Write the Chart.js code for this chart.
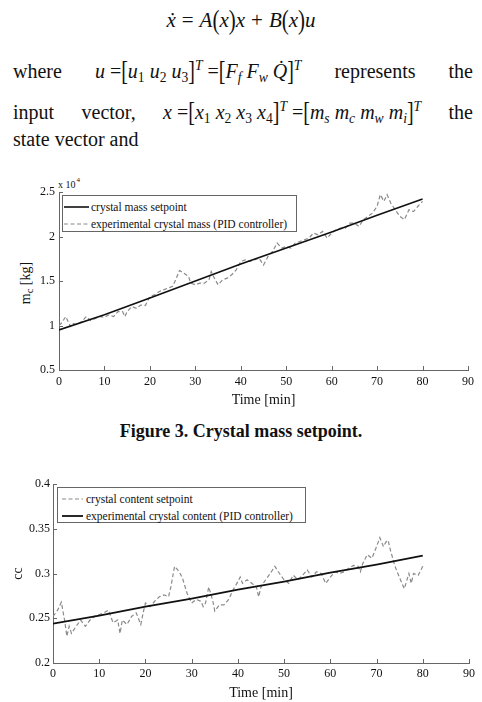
<!DOCTYPE html>
<html>
<head>
<meta charset="utf-8">
<script src="https://cdn.jsdelivr.net/npm/chart.js@4.4.1/dist/chart.umd.min.js"></script>
<style>
  html, body { margin: 0; padding: 0; background: #fff; }
  body { width: 482px; height: 702px; position: relative; overflow: hidden;
         font-family: "Liberation Serif", "Times New Roman", serif; color: #111; }
  .line { position: absolute; font-size: 20px; line-height: 20px; white-space: nowrap; }
  .just { display: flex; justify-content: space-between; align-items: baseline; }
  .m { font-style: italic; }
  .op { display: inline-block; margin: 0 6px; }
  .sub { font-size: .68em; position: relative; top: .3em; }
  .sup { font-size: .68em; position: relative; top: -.6em; }
  .br { display: inline-block; transform: scale(1, 1.35); font-style: normal; }
  .caption { position: absolute; left: 0; width: 482px; text-align: center;
             font-weight: bold; font-size: 18px; line-height: 18px; }
  canvas { position: absolute; left: 0; }
  .legend { position: absolute; box-sizing: border-box; border: 1px solid #666; background: #fff;
            font-size: 11.5px; }
  .legend .row { display: flex; align-items: center; height: 17px; white-space: nowrap; }
  .legend svg { flex: none; }
  .ytitle { position: absolute; font-size: 14px; line-height: 14px; white-space: nowrap;
            transform: translate(-50%, -50%) rotate(-90deg); }
  .exp { position: absolute; font-size: 10px; line-height: 10px; white-space: nowrap; }
</style>
</head>
<body>

<div class="line" style="left:0;width:482px;top:10px;text-align:center;font-size:21px">
  <span class="m">x&#775;</span><span class="op">=</span><span class="m">A</span><span class="br">(</span><span class="m">x</span><span class="br">)</span><span class="m">x</span><span class="op">+</span><span class="m">B</span><span class="br">(</span><span class="m">x</span><span class="br">)</span><span class="m">u</span>
</div>

<div class="line just" style="left:13px;top:61px;width:460px">
  <span>where</span>
  <span><span class="m">u</span> =<span class="br">[</span><span class="m">u</span><span class="sub">1</span> <span class="m">u</span><span class="sub">2</span> <span class="m">u</span><span class="sub">3</span><span class="br">]</span><span class="sup m">T</span> =<span class="br">[</span><span class="m">F</span><span class="sub m">f</span> <span class="m">F</span><span class="sub m">w</span> <span class="m">Q&#775;</span><span class="br">]</span><span class="sup m">T</span></span>
  <span>represents</span>
  <span>the</span>
</div>

<div class="line just" style="left:13px;top:102px;width:460px">
  <span>input</span>
  <span>vector,</span>
  <span><span class="m">x</span> =<span class="br">[</span><span class="m">x</span><span class="sub">1</span> <span class="m">x</span><span class="sub">2</span> <span class="m">x</span><span class="sub">3</span> <span class="m">x</span><span class="sub">4</span><span class="br">]</span><span class="sup m">T</span> =<span class="br">[</span><span class="m">m</span><span class="sub m">s</span> <span class="m">m</span><span class="sub m">c</span> <span class="m">m</span><span class="sub m">w</span> <span class="m">m</span><span class="sub m">i</span><span class="br">]</span><span class="sup m">T</span></span>
  <span>the</span>
</div>

<div class="line" style="left:13px;top:129px">state vector and</div>

<!-- Figure 3 -->
<div class="exp" style="left:58px;top:180px">x 10<span style="font-size:7px;position:relative;top:-6px;left:1px">4</span></div>
<div class="ytitle" style="left:26px;top:283px">m<span style="font-size:.75em;position:relative;top:.3em">c</span> [kg]</div>
<canvas id="massChart" width="482" height="234" style="top:175px;width:482px;height:234px"></canvas>
<div class="legend" id="massLegend" style="left:62px;top:195px;width:235px;height:37px;padding:2px 0 0 1px"></div>

<div class="caption" style="top:422px">Figure 3. Crystal mass setpoint.</div>

<!-- Figure 4 -->
<canvas id="ccChart" width="482" height="237" style="top:465px;width:482px;height:237px"></canvas>
<div class="legend" id="ccLegend" style="left:57px;top:487px;width:249px;height:36px;padding:2px 0 0 4px"></div>

<script>
// time axis ticks (min), shared by both figures
const timeTicks = [0, 10, 20, 30, 40, 50, 60, 70, 80, 90];

// setpoint trajectories
const spTime = [0, 10, 20, 30, 40, 50, 60, 70, 80];
const massSetpoint = [0.95, 1.12, 1.31, 1.50, 1.69, 1.87, 2.05, 2.24, 2.42];   // x 10^4 kg
const ccSetpoint = [0.244, 0.253, 0.263, 0.272, 0.282, 0.291, 0.301, 0.310, 0.320];

// experimental crystal mass (PID), x 10^4 kg
const massTime = [0, 0.5, 1.5, 2.5, 3, 4, 5, 6, 7, 8, 9, 10, 11, 12, 13, 14, 14.5, 15, 16, 17,
  18, 19, 20, 21, 22, 23, 24, 25, 25.5, 26.5, 27.5, 28.5, 29, 30, 31, 32, 33, 33.5, 34, 35,
  36, 37, 38, 39, 40, 41, 42, 43, 44, 45, 46, 47, 48, 49, 50, 51, 52, 53, 54, 55,
  56, 57, 58, 59, 60, 61, 62, 63, 64, 65, 66, 67, 68, 69, 70, 70.7, 71.5, 72.2, 73, 74,
  75, 76, 77, 78, 79, 80];
const massExp = [1.0, 1.025, 1.10, 0.99, 1.025, 1.007, 1.044, 1.10, 1.055, 1.08, 1.10, 1.093, 1.12, 1.10, 1.157, 1.157, 1.10, 1.157, 1.213, 1.194,
  1.23, 1.224, 1.325, 1.344, 1.38, 1.40, 1.42, 1.44, 1.494, 1.618, 1.588, 1.55, 1.476, 1.457, 1.476, 1.476, 1.513, 1.607, 1.55, 1.457,
  1.513, 1.532, 1.57, 1.626, 1.72, 1.738, 1.72, 1.738, 1.757, 1.68, 1.776, 1.832, 1.926, 1.87, 1.888, 1.87, 1.926, 1.944, 1.963, 1.982,
  2.038, 2.02, 2.057, 1.982, 2.038, 2.076, 2.094, 2.094, 2.15, 2.15, 2.113, 2.19, 2.226, 2.264, 2.34, 2.47, 2.395, 2.47, 2.376, 2.30,
  2.226, 2.19, 2.30, 2.28, 2.34, 2.395];
const massTicks = [0.5, 1, 1.5, 2, 2.5];

// crystal content (dashed one is labelled setpoint in the original legend)
const ccTime = [0, 1, 1.8, 2.5, 3, 3.5, 4, 5, 6, 7, 8, 9, 10, 11, 12, 13, 14, 14.5, 15, 16,
  17, 18, 19, 19.5, 20, 21, 22, 23, 24, 25, 25.5, 26.3, 27, 27.5, 28, 29, 30, 31, 32, 32.5,
  33, 33.7, 34.5, 35, 36, 37, 38, 39, 40, 40.5, 41, 42, 43, 44, 44.5, 45, 46, 47, 48, 49,
  50, 51, 52, 53, 54, 55, 56, 57, 58, 59, 60, 61, 62, 63, 64, 65, 66, 66.5, 67, 68,
  69, 70, 70.7, 71.5, 72, 72.5, 73, 74, 75, 76, 77, 77.5, 78, 79, 80];
const ccExp = [0.252, 0.259, 0.268, 0.248, 0.230, 0.241, 0.233, 0.241, 0.248, 0.241, 0.248, 0.252, 0.254, 0.256, 0.259, 0.245, 0.248, 0.233, 0.248, 0.243,
  0.252, 0.256, 0.243, 0.256, 0.267, 0.263, 0.269, 0.274, 0.276, 0.274, 0.285, 0.308, 0.304, 0.300, 0.295, 0.278, 0.267, 0.271, 0.269, 0.263,
  0.267, 0.285, 0.271, 0.258, 0.265, 0.265, 0.271, 0.282, 0.291, 0.296, 0.289, 0.293, 0.289, 0.285, 0.274, 0.285, 0.293, 0.300, 0.308, 0.300,
  0.293, 0.289, 0.298, 0.293, 0.298, 0.304, 0.296, 0.302, 0.300, 0.289, 0.296, 0.302, 0.300, 0.302, 0.306, 0.309, 0.308, 0.302, 0.311, 0.321,
  0.317, 0.330, 0.340, 0.330, 0.335, 0.337, 0.326, 0.308, 0.295, 0.283, 0.300, 0.289, 0.300, 0.298, 0.308];
const ccTicks = [0.2, 0.25, 0.3, 0.35, 0.4];

const axisColor = '#666';
const textColor = '#111';
const solidColor = '#111';
const dashColor = '#8a8a8a';
const font = 'Liberation Serif';

const pts = (xs, ys) => xs.map((x, i) => ({ x, y: ys[i] }));

// matlab-style tick marks pointing into the plot
const inwardTicks = {
  id: 'inwardTicks',
  afterDatasetsDraw(chart) {
    const { ctx, chartArea: a, scales: { x, y } } = chart;
    ctx.save();
    ctx.strokeStyle = axisColor;
    ctx.lineWidth = 1;
    ctx.beginPath();
    x.ticks.forEach(t => {
      const px = Math.round(x.getPixelForValue(t.value)) + 0.5;
      ctx.moveTo(px, a.bottom); ctx.lineTo(px, a.bottom - 4);
    });
    y.ticks.forEach(t => {
      const py = Math.round(y.getPixelForValue(t.value)) + 0.5;
      ctx.moveTo(a.left, py); ctx.lineTo(a.left + 4, py);
    });
    ctx.stroke();
    ctx.restore();
  }
};

function makeOptions(c) {
  return {
    responsive: false,
    animation: false,
    events: [],
    layout: { padding: { top: c.padTop, right: c.padRight, left: 0, bottom: 0 } },
    plugins: { legend: { display: false }, tooltip: { enabled: false } },
    elements: { point: { radius: 0 }, line: { tension: 0 } },
    scales: {
      x: {
        type: 'linear', min: 0, max: 90,
        afterBuildTicks: s => { s.ticks = timeTicks.map(v => ({ value: v })); },
        afterFit: s => { s.height = c.xHeight; },
        grid: { display: false, drawTicks: false },
        border: { display: true, color: axisColor, width: 1 },
        ticks: { color: textColor, font: { family: font, size: 12 }, padding: c.xPad, maxRotation: 0,
                 callback: v => String(v) },
        title: { display: true, text: 'Time [min]', color: textColor, font: { family: font, size: 14 }, padding: 0 }
      },
      y: {
        type: 'linear', min: c.yTicks[0], max: c.yTicks[c.yTicks.length - 1],
        afterBuildTicks: s => { s.ticks = c.yTicks.map(v => ({ value: v })); },
        afterFit: s => { s.width = c.yWidth; },
        grid: { display: false, drawTicks: false },
        border: { display: true, color: axisColor, width: 1 },
        ticks: { color: textColor, font: { family: font, size: 12 }, padding: c.yPad,
                 callback: v => String(v) },
        title: c.yTitle
          ? { display: true, text: c.yTitle, color: textColor, font: { family: font, size: 14 }, padding: { top: 10, bottom: 0 } }
          : { display: false }
      }
    }
  };
}

function drawLegend(chart, id, sampleW, gap) {
  const el = document.getElementById(id);
  el.innerHTML = chart.data.datasets.map(ds => {
    const dash = ds.borderDash ? ds.borderDash.join(',') : 'none';
    return `<div class="row">
      <svg width="${sampleW}" height="6" style="margin-right:${gap}px">
        <line x1="0" y1="3" x2="${sampleW}" y2="3" stroke="${ds.borderColor}" stroke-width="${ds.borderWidth}" stroke-dasharray="${dash}"/>
      </svg><span>${ds.label}</span></div>`;
  }).join('');
}

const massChart = new Chart(document.getElementById('massChart'), {
  type: 'line',
  data: {
    datasets: [
      { label: 'crystal mass setpoint', data: pts(spTime, massSetpoint),
        borderColor: solidColor, borderWidth: 1.6, order: 0 },
      { label: 'experimental crystal mass (PID controller)', data: pts(massTime, massExp),
        borderColor: dashColor, borderWidth: 1.2, borderDash: [4, 2.5], order: 1 }
    ]
  },
  options: makeOptions({ yTicks: massTicks, yWidth: 59, padTop: 17, padRight: 14, xHeight: 39, xPad: 5, yPad: 4 }),
  plugins: [inwardTicks]
});
drawLegend(massChart, 'massLegend', 25, 2);

const ccChart = new Chart(document.getElementById('ccChart'), {
  type: 'line',
  data: {
    datasets: [
      { label: 'crystal content setpoint', data: pts(ccTime, ccExp),
        borderColor: dashColor, borderWidth: 1.2, borderDash: [4, 2.5], order: 1 },
      { label: 'experimental crystal content (PID controller)', data: pts(spTime, ccSetpoint),
        borderColor: solidColor, borderWidth: 1.8, order: 0 }
    ]
  },
  options: makeOptions({ yTicks: ccTicks, yWidth: 53, padTop: 19, padRight: 13, xHeight: 39, xPad: 4, yPad: 3, yTitle: 'cc' }),
  plugins: [inwardTicks]
});
drawLegend(ccChart, 'ccLegend', 21, 3);
</script>
</body>
</html>
